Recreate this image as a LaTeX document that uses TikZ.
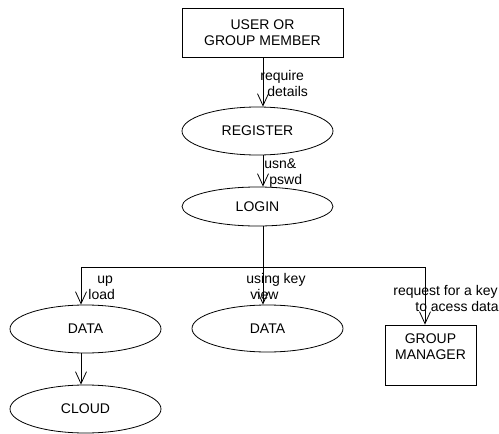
\documentclass[tikz,border=0pt]{standalone}
\usepackage{fontspec}
\setmainfont{Liberation Sans}
\usepackage{tikz}
\usetikzlibrary{arrows.meta}
\usetikzlibrary{positioning, shapes.geometric}

\begin{document}
\begin{tikzpicture}[x=1pt,y=-1pt,line width=0.8pt,
  every node/.style={font=\fontsize{14}{16}\selectfont},
  proc/.style={draw,ellipse,inner sep=0pt,minimum width=151pt},
  ent/.style={draw,rectangle,align=center,inner sep=0pt},
  lbl/.style={anchor=west,align=left,inner sep=0pt},
  flow/.style={-{Straight Barb[length=12pt,width=11pt]}}]
\useasboundingbox (0,0) rectangle (499,434);

% entities and processes
\node (user) at (262.5,33) [ent,minimum width=161pt,minimum height=49pt] {USER OR\\GROUP MEMBER};
\node (reg) at (257.5,131) [proc,minimum height=48pt] {REGISTER};
\node (login) at (257.5,206.5) [proc,minimum height=39pt] {LOGIN};
\node (data1) at (85.5,329) [proc,minimum height=48pt] {DATA};
\node (data2) at (267.5,328.5) [proc,minimum height=47pt] {DATA};
\node (mgr) at (430.5,355) [ent,minimum width=91pt,minimum height=60pt] {GROUP\\MANAGER\\{}};
\node (cloud) at (85.5,409) [proc,minimum height=48pt] {CLOUD};

% branch points
\coordinate (top1) at (263,0);
\coordinate (split) at (263,267);
\coordinate (bl) at (81,267);
\coordinate (br) at (425,267);

\draw[flow] (user.south -| top1) -- (reg.north -| top1);
\draw[flow] (reg.south -| top1) -- (login.north -| top1);
\draw (login.south -| top1) -- (split);
\draw (bl) -- (br);
\draw[flow] (bl) -- (bl |- data1.north);
\draw[flow] (split) -- (split |- data2.north);
\draw[flow] (br) -- (mgr.north -| br);
\draw[flow] (data1.south -| bl) -- (cloud.north -| bl);

% labels
\node (lreq) at (260,83) [lbl] {require\\\hspace*{7pt}details};
\node (lusn) at (264,173) [lbl] {usn\&\\\hspace*{5pt}pswd};
\node (lup) at (88,287.5) [lbl] {\hspace*{9pt}up\\load};
\node (lkey) at (246,286) [lbl] {using key\\\hspace*{4pt}view};
\node (lreq2) at (393,298.5) [lbl] {request for a key\\\hspace*{22pt}to acess data};
\end{tikzpicture}
\end{document}
